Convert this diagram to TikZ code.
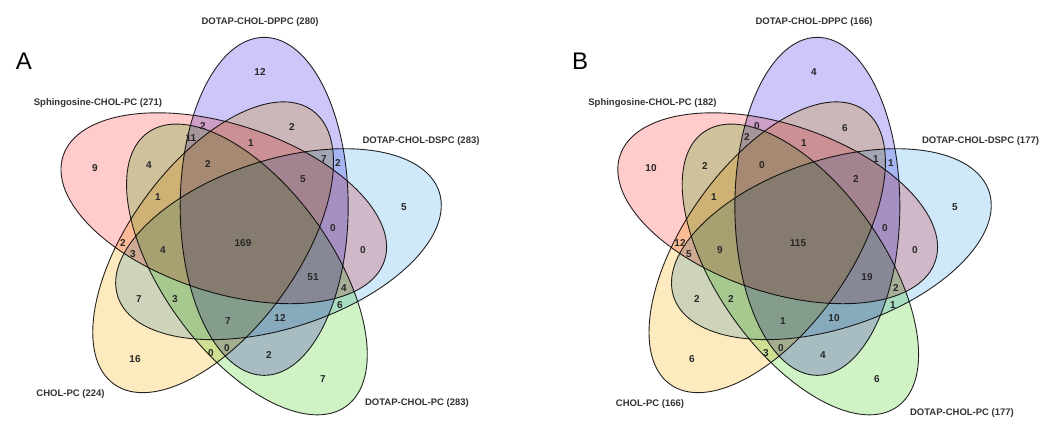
\documentclass[tikz,border=0pt]{standalone}
\usepackage{fontspec}
\setmainfont{Liberation Sans}

\definecolor{setblue}{RGB}{205,199,249}
\definecolor{setpink}{RGB}{255,203,203}
\definecolor{setyellow}{RGB}{253,234,190}
\definecolor{setgreen}{RGB}{208,243,198}
\definecolor{setcyan}{RGB}{207,232,250}

\tikzset{
  venn/.style={draw=black!85, line width=0.9pt, blend mode=multiply},
  num/.style={inner sep=0pt, font=\bfseries\fontsize{10}{12}\selectfont, text=black!85},
  setlabel/.style={inner sep=0pt, anchor=base, font=\bfseries\fontsize{9.5}{11}\selectfont, text=black!80},
  panel/.style={inner sep=0pt, font=\fontsize{24}{28}\selectfont},
}

\begin{document}
\begin{tikzpicture}[x=1pt, y=-1pt]
\fill[white] (0,0) rectangle (1050,422);
\useasboundingbox (0,0) rectangle (1050,422);

% five ellipses per panel, each one turned 72 degrees about the middle
\foreach \cx/\sx in {245.3/1, 798.8/0.982} {
  \foreach \k/\col in {0/setblue, 1/setpink, 2/setyellow, 3/setgreen, 4/setcyan} {
    \draw[venn, fill=\col, shift={(\cx,235.1)}, xscale=\sx, rotate={90+72*\k}]
      (33.3:34.4) ellipse [x radius=169, y radius=84];
  }
}

% panel letters
\node[panel] (panelA) at (24,61.5) {A};
\node[panel] (panelB) at (580,61) {B};

% set names, panel A
\node[setlabel] (dppcA) at (260,25) {DOTAP-CHOL-DPPC (280)};
\node[setlabel] (sphA) at (98,106) {Sphingosine-CHOL-PC (271)};
\node[setlabel] (dspcA) at (421,144) {DOTAP-CHOL-DSPC (283)};
\node[setlabel] (cholA) at (70.5,396) {CHOL-PC (224)};
\node[setlabel] (pcA) at (417,405) {DOTAP-CHOL-PC (283)};

% set names, panel B
\node[setlabel] (dppcB) at (814,25) {DOTAP-CHOL-DPPC (166)};
\node[setlabel] (sphB) at (652.5,106) {Sphingosine-CHOL-PC (182)};
\node[setlabel] (dspcB) at (980.5,144) {DOTAP-CHOL-DSPC (177)};
\node[setlabel] (cholB) at (650,406) {CHOL-PC (166)};
\node[setlabel] (pcB) at (962,415) {DOTAP-CHOL-PC (177)};

% region counts, panel A
\foreach \x/\y/\t [count=\i] in {260/72/12, 292/127/2, 95/168/9, 149/165/4, 203/126/2,
    191/138/11, 251/143/1, 208/164/2, 303/179/5, 324/159/7, 338/163/2, 158/197/1,
    404/207/5, 333/228/0, 363/250/0, 123/243/2, 133/254/3, 163/250/4, 243/243/169,
    313/277/51, 344/288/4, 340/305/6, 139/299/7, 175/299/3, 228/321/7, 280/318/12,
    211/353/0, 227/348/0, 269/355/2, 135/359/16, 323/379/7}
  \node[num] (a\i) at (\x,\y) {\t};

% region counts, panel B
\foreach \x/\y/\t [count=\i] in {814/72/4, 845/128/6, 651/168/10, 705/166/2, 757/126/0,
    747/137/2, 804/143/1, 762/165/0, 856/179/2, 876/159/1, 891/163/1, 714/197/1,
    955/207/5, 885/228/0, 915/250/0, 680/243/12, 689/254/5, 720/250/9, 798/243/115,
    867/277/19, 896/288/2, 893/305/1, 697/299/2, 731/299/2, 783/321/1, 834/318/10,
    766/353/3, 781/348/0, 823/355/4, 692/359/6, 877/379/6}
  \node[num] (b\i) at (\x,\y) {\t};
\end{tikzpicture}
\end{document}
